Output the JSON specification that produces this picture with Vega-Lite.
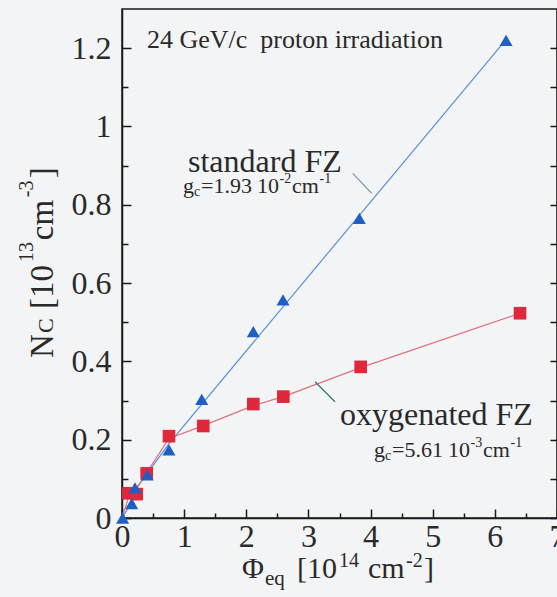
{
  "$schema": "https://vega.github.io/schema/vega-lite/v6.json",
  "width": 435,
  "height": 509,
  "autosize": "none",
  "padding": {"left": 122, "top": 9, "right": 0, "bottom": 79},
  "background": "#f3f4f5",
  "config": {"view": {"stroke": "#1a1a1a", "strokeWidth": 1.5}, "font": "Liberation Serif"},
  "datasets": {
    "bluePts": [{"phi":0.01,"nc":0.0},{"phi":0.156,"nc":0.037},{"phi":0.209,"nc":0.077},{"phi":0.407,"nc":0.11},{"phi":0.756,"nc":0.174},{"phi":1.283,"nc":0.303},{"phi":2.113,"nc":0.476},{"phi":2.591,"nc":0.557},{"phi":3.819,"nc":0.765},{"phi":6.18,"nc":1.22}],
    "redPts": [{"phi":0.101,"nc":0.063},{"phi":0.237,"nc":0.061},{"phi":0.397,"nc":0.114},{"phi":0.756,"nc":0.209},{"phi":1.308,"nc":0.235},{"phi":2.113,"nc":0.291},{"phi":2.596,"nc":0.31},{"phi":3.841,"nc":0.386},{"phi":6.405,"nc":0.523}],
    "blueFit": [{"phi":0,"nc":0},{"phi":0.156,"nc":0.04},{"phi":0.209,"nc":0.072},{"phi":0.407,"nc":0.114},{"phi":0.756,"nc":0.19},{"phi":6.18,"nc":1.222}],
    "redFit": [{"phi":0,"nc":0},{"phi":0.1,"nc":0.05},{"phi":0.237,"nc":0.075},{"phi":0.397,"nc":0.116},{"phi":0.756,"nc":0.203},{"phi":1.308,"nc":0.236},{"phi":2.113,"nc":0.287},{"phi":2.596,"nc":0.31},{"phi":3.841,"nc":0.384},{"phi":6.405,"nc":0.523}],
    "blueLeader": [{"phi":3.713,"nc":0.88,"phi2":4.018,"nc2":0.829}],
    "redLeader": [{"phi":3.106,"nc":0.348,"phi2":3.428,"nc2":0.297}],
    "tBig": [{"text":"standard FZ","phi":1.062,"nc":0.8833},{"text":"oxygenated FZ","phi":3.508,"nc":0.2374}],
    "tHead": [{"text":"24 GeV/c\u00a0 proton irradiation","phi":0.402,"nc":1.2}],
    "gMain": [
      {"text":"g","phi":0.982,"nc":0.8297},{"text":"=1.93","phi":1.271,"nc":0.8297},{"text":"10","phi":2.173,"nc":0.8297},{"text":"cm","phi":2.736,"nc":0.8297},
      {"text":"g","phi":4.055,"nc":0.1565},{"text":"=5.61","phi":4.345,"nc":0.1565},{"text":"10","phi":5.246,"nc":0.1565},{"text":"cm","phi":5.809,"nc":0.1565}
    ],
    "gSmall": [
      {"text":"c","phi":1.159,"nc":0.8221},{"text":"-2","phi":2.535,"nc":0.8553},{"text":"-1","phi":3.178,"nc":0.8553},
      {"text":"c","phi":4.232,"nc":0.1481},{"text":"-3","phi":5.608,"nc":0.1813},{"text":"-1","phi":6.252,"nc":0.1813}
    ],
    "xTitle": [{"text":"Φ","phi":1.931,"nc":-0.1532},{"text":"[10","phi":2.816,"nc":-0.1532},{"text":"cm","phi":3.959,"nc":-0.1532},{"text":"]","phi":4.86,"nc":-0.1532}],
    "xTitleSub": [{"text":"eq","phi":2.301,"nc":-0.171}],
    "xTitleSup": [{"text":"14","phi":3.492,"nc":-0.1251},{"text":"-2","phi":4.57,"nc":-0.1251}],
    "yTitle": [{"text":"N","phi":-1.11,"nc":0.4085},{"text":"[10","phi":-1.11,"nc":0.5336},{"text":"cm","phi":-1.11,"nc":0.7097},{"text":"]","phi":-1.11,"nc":0.868}],
    "yTitleSub": [{"text":"C","phi":-1.11,"nc":0.4723}],
    "yTitleSup": [{"text":"13","phi":-1.432,"nc":0.6536},{"text":"-3","phi":-1.432,"nc":0.8195}]
  },
  "resolve": {"axis": {"y": "independent"}},
  "encoding": {
    "x": {
      "field": "phi", "type": "quantitative",
      "scale": {"domain": [0, 7], "nice": false, "zero": false},
      "axis": {
        "orient": "bottom", "title": null, "grid": false,
        "values": [0,0.5,1,1.5,2,2.5,3,3.5,4,4.5,5,5.5,6,6.5,7],
        "format": "~g",
        "labelExpr": "datum.value % 1 == 0 ? datum.label : ''",
        "tickSize": {"condition": {"test": "datum.value % 1 == 0", "value": -9}, "value": -5},
        "labelPadding": 12,
        "labelFont": "Liberation Serif", "labelFontSize": 32, "labelColor": "#2a2a2a",
        "labelOverlap": false, "labelFlush": false, "labelBound": false,
        "domainColor": "#1a1a1a", "domainWidth": 1.5, "tickColor": "#1a1a1a", "tickWidth": 1.5
      }
    },
    "y": {
      "field": "nc", "type": "quantitative",
      "scale": {"domain": [0, 1.3], "nice": false, "zero": false},
      "axis": null
    }
  },
  "layer": [
    {
      "data": {"name": "blueFit"},
      "mark": {"type": "line", "stroke": "#5b8fd8", "strokeWidth": 1.2},
      "encoding": {
        "y": {
          "field": "nc", "type": "quantitative",
          "scale": {"domain": [0, 1.3], "nice": false, "zero": false},
          "axis": {
            "orient": "left", "title": null, "grid": false,
            "values": [0,0.1,0.2,0.3,0.4,0.5,0.6,0.7,0.8,0.9,1,1.1,1.2],
            "format": "~g",
            "labelExpr": "round(datum.value*10) % 2 == 0 ? datum.label : ''",
            "tickSize": {"condition": {"test": "round(datum.value*10) % 2 == 0", "value": -9}, "value": -6},
            "labelPadding": 20,
            "labelFont": "Liberation Serif", "labelFontSize": 32, "labelColor": "#2a2a2a",
            "labelOverlap": false, "labelFlush": false, "labelBound": false,
            "domainColor": "#1a1a1a", "domainWidth": 1.5, "tickColor": "#1a1a1a", "tickWidth": 1.5
          }
        }
      }
    },
    {
      "data": {"name": "redFit"},
      "mark": {"type": "line", "stroke": "#e0707c", "strokeWidth": 1.2}
    },
    {
      "data": {"name": "blueLeader"},
      "mark": {"type": "rule", "stroke": "#7a90aa", "strokeWidth": 1.2},
      "encoding": {"x2": {"field": "phi2"}, "y2": {"field": "nc2"}}
    },
    {
      "data": {"name": "redLeader"},
      "mark": {"type": "rule", "stroke": "#2f7a65", "strokeWidth": 1.2},
      "encoding": {"x2": {"field": "phi2"}, "y2": {"field": "nc2"}}
    },
    {
      "data": {"name": "redPts"},
      "mark": {"type": "point", "shape": "square", "filled": true, "size": 160, "color": "#e0283c", "opacity": 1}
    },
    {
      "data": {"name": "bluePts"},
      "mark": {"type": "point", "shape": "triangle-up", "filled": true, "size": 170, "color": "#1e5fc4", "opacity": 1},
      "encoding": {
        "y": {
          "field": "nc", "type": "quantitative",
          "scale": {"domain": [0, 1.3], "nice": false, "zero": false},
          "axis": {
            "orient": "right", "title": null, "grid": false,
            "values": [0,0.1,0.2,0.3,0.4,0.5,0.6,0.7,0.8,0.9,1,1.1,1.2],
            "labels": false, "tickSize": -7,
            "domainColor": "#1a1a1a", "domainWidth": 1.5, "tickColor": "#1a1a1a", "tickWidth": 1.5
          }
        }
      }
    },
    {
      "data": {"name": "tBig"},
      "mark": {"type": "text", "font": "Liberation Serif", "fontSize": 32, "align": "left", "baseline": "alphabetic", "color": "#2a2a2a"},
      "encoding": {"text": {"field": "text"}}
    },
    {
      "data": {"name": "tHead"},
      "mark": {"type": "text", "font": "Liberation Serif", "fontSize": 26, "align": "left", "baseline": "alphabetic", "color": "#2a2a2a"},
      "encoding": {"text": {"field": "text"}}
    },
    {
      "data": {"name": "gMain"},
      "mark": {"type": "text", "font": "Liberation Serif", "fontSize": 22, "align": "left", "baseline": "alphabetic", "color": "#2a2a2a"},
      "encoding": {"text": {"field": "text"}}
    },
    {
      "data": {"name": "gSmall"},
      "mark": {"type": "text", "font": "Liberation Serif", "fontSize": 14, "align": "left", "baseline": "alphabetic", "color": "#2a2a2a"},
      "encoding": {"text": {"field": "text"}}
    },
    {
      "data": {"name": "xTitle"},
      "mark": {"type": "text", "font": "Liberation Serif", "fontSize": 30, "align": "left", "baseline": "alphabetic", "color": "#2a2a2a"},
      "encoding": {"text": {"field": "text"}}
    },
    {
      "data": {"name": "xTitleSub"},
      "mark": {"type": "text", "font": "Liberation Serif", "fontSize": 21, "align": "left", "baseline": "alphabetic", "color": "#2a2a2a"},
      "encoding": {"text": {"field": "text"}}
    },
    {
      "data": {"name": "xTitleSup"},
      "mark": {"type": "text", "font": "Liberation Serif", "fontSize": 20, "align": "left", "baseline": "alphabetic", "color": "#2a2a2a"},
      "encoding": {"text": {"field": "text"}}
    },
    {
      "data": {"name": "yTitle"},
      "mark": {"type": "text", "font": "Liberation Serif", "fontSize": 33, "align": "left", "baseline": "alphabetic", "angle": 270, "color": "#2a2a2a"},
      "encoding": {"text": {"field": "text"}}
    },
    {
      "data": {"name": "yTitleSub"},
      "mark": {"type": "text", "font": "Liberation Serif", "fontSize": 22, "align": "left", "baseline": "alphabetic", "angle": 270, "color": "#2a2a2a"},
      "encoding": {"text": {"field": "text"}}
    },
    {
      "data": {"name": "yTitleSup"},
      "mark": {"type": "text", "font": "Liberation Serif", "fontSize": 20, "align": "left", "baseline": "alphabetic", "angle": 270, "color": "#2a2a2a"},
      "encoding": {"text": {"field": "text"}}
    }
  ]
}
